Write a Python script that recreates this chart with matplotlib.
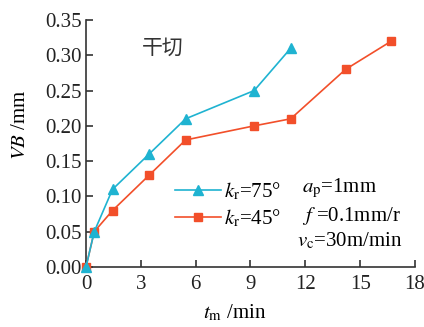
import matplotlib
matplotlib.use("Agg")
import matplotlib.pyplot as plt

plt.rcParams['font.family'] = ['Liberation Serif', 'Noto Sans CJK SC']
plt.rcParams['mathtext.fontset'] = 'stix'

# data
t_75 = [0, 0.45, 1.45, 3.45, 5.45, 9.2, 11.2]
vb_75 = [0, 0.05, 0.11, 0.16, 0.21, 0.25, 0.31]
t_45 = [0, 0.45, 1.45, 3.45, 5.45, 9.2, 11.2, 14.2, 16.7]
vb_45 = [0, 0.05, 0.08, 0.13, 0.18, 0.20, 0.21, 0.28, 0.32]
x_ticks = [0, 3, 6, 9, 12, 15, 18]
y_ticks = [0.00, 0.05, 0.10, 0.15, 0.20, 0.25, 0.30, 0.35]

blue = '#1fb3d1'
red = '#f24f2a'

fig = plt.figure(figsize=(4.24, 3.27), dpi=100)
ax = fig.add_axes([86/424, 60/327, 329/424, 247/327])

ax.plot(t_75, vb_75, color=blue, lw=1.2, marker='^', ms=7, clip_on=False,
        label=r'$k_\mathrm{r}$=75°', zorder=4)
ax.plot(t_45, vb_45, color=red, lw=1.2, marker='s', ms=6, clip_on=False,
        label=r'$k_\mathrm{r}$=45°', zorder=3)

ax.set_xlim(0, 18)
ax.set_ylim(0, 0.35)
ax.set_xticks(x_ticks)
ax.set_yticks(y_ticks)
ax.set_yticklabels(['%.2f' % v for v in y_ticks])
ax.tick_params(direction='in', labelsize=15, length=5, width=1.2, color='#333333',
               labelcolor='#222222')
ax.tick_params(axis='x', pad=6)
ax.tick_params(axis='y', pad=3)
for s in ['top', 'right']:
    ax.spines[s].set_visible(False)
for s in ['left', 'bottom']:
    ax.spines[s].set_linewidth(1.2)
    ax.spines[s].set_color('#333333')

ax.set_xlabel(r'$t_\mathrm{m}$ /min', fontsize=15)
ax.xaxis.set_label_coords(0.453, -0.145)
ax.set_ylabel(r'$VB$ /mm', fontsize=15)
ax.yaxis.set_label_coords(-0.17, 0.575)

ax.text(0.234, 0.887, '干切', transform=ax.transAxes, fontsize=15,
        family='Noto Sans CJK SC', ha='center', va='center', color='#333333')

leg = ax.legend(loc='upper left', bbox_to_anchor=(0.27, 0.35), frameon=False,
                fontsize=15, handlelength=2.2, handletextpad=0.15,
                labelspacing=0.25, borderpad=0, borderaxespad=0)

ax.text(0.657, 0.32, r'$a_\mathrm{p}$=1mm', transform=ax.transAxes, fontsize=15,
        va='center', ha='left')
ax.text(0.657, 0.206, r'$f$ =0.1mm/r', transform=ax.transAxes, fontsize=15,
        va='center', ha='left')
ax.text(0.641, 0.105, r'$v_\mathrm{c}$=30m/min', transform=ax.transAxes, fontsize=15,
        va='center', ha='left')

fig.savefig('out.png', dpi=100)
